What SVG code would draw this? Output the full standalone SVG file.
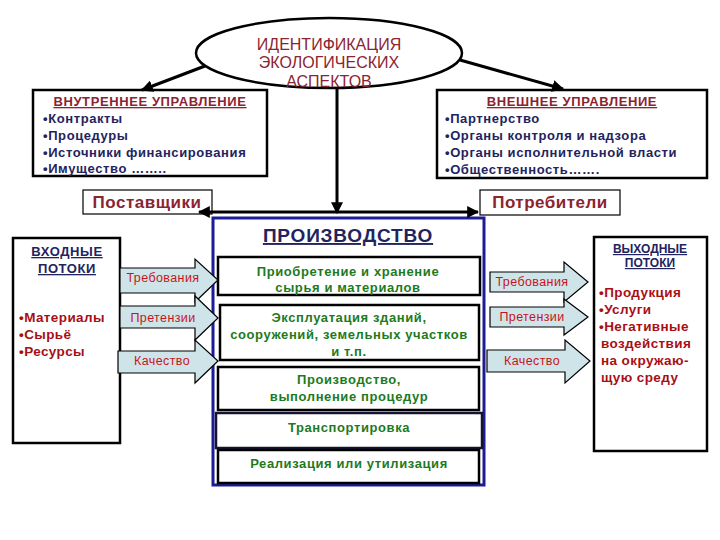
<svg xmlns="http://www.w3.org/2000/svg" width="720" height="540" viewBox="0 0 720 540">
<defs>
<marker id="ah" viewBox="0 0 10 10" refX="9" refY="5" markerWidth="4" markerHeight="4" orient="auto" markerUnits="strokeWidth">
<path d="M0,0 L10,5 L0,10 z" fill="#000"/>
</marker>
<style>
text{font-family:"Liberation Sans",Arial,sans-serif;}
.box{fill:#fff;stroke:#000;stroke-width:2.5;}
.arr{fill:#cfe4e9;stroke:#000;stroke-width:1.2;}
.mar{fill:#8b2431;}
.hdr{fill:#8b2431;font-weight:bold;font-size:13px;letter-spacing:0.6px;text-decoration:underline;}
.nav{fill:#23235e;font-weight:bold;font-size:13px;letter-spacing:0.6px;}
.grn{fill:#1d7a1d;font-weight:bold;font-size:13px;letter-spacing:0.6px;}
.red{fill:#a80f14;font-weight:bold;font-size:13.5px;letter-spacing:0.4px;}
.at{fill:#c8141a;font-size:12.5px;letter-spacing:0.4px;}
.big{fill:#8b2431;font-size:17px;font-weight:bold;letter-spacing:0.5px;}
.con{stroke:#000;stroke-width:3;fill:none;}
</style>
</defs>
<rect width="720" height="540" fill="#fff"/>

<g id="ellipse">
<ellipse cx="329" cy="53" rx="133" ry="35" fill="#fff" stroke="#000" stroke-width="2.5"/>
<text class="mar" font-size="16" text-anchor="middle" x="329" y="50">ИДЕНТИФИКАЦИЯ</text>
<text class="mar" font-size="16" text-anchor="middle" x="329" y="68">ЭКОЛОГИЧЕСКИХ</text>
<text class="mar" font-size="16" text-anchor="middle" x="329" y="87">АСПЕКТОВ</text>
</g>

<g id="internal">
<rect class="box" x="33" y="90" width="234" height="86"/>
<text class="hdr" x="150" y="106" text-anchor="middle">ВНУТРЕННЕЕ УПРАВЛЕНИЕ</text>
<text class="nav" x="43" y="123">•Контракты</text>
<text class="nav" x="43" y="140">•Процедуры</text>
<text class="nav" x="43" y="157">•Источники финансирования</text>
<text class="nav" x="43" y="173">•Имущество ……..</text>
</g>

<g id="external">
<rect class="box" x="437" y="90" width="270" height="88"/>
<text class="hdr" x="572" y="106" text-anchor="middle">ВНЕШНЕЕ УПРАВЛЕНИЕ</text>
<text class="nav" x="445" y="123">•Партнерство</text>
<text class="nav" x="445" y="140">•Органы контроля и надзора</text>
<text class="nav" x="445" y="157">•Органы исполнительной власти</text>
<text class="nav" x="445" y="174">•Общественность…….</text>
</g>

<g id="suppliers">
<rect x="83" y="190" width="129" height="24" fill="#fff" stroke="#000" stroke-width="1.2"/>
<text class="big" x="147" y="208" text-anchor="middle">Поставщики</text>
</g>

<g id="consumers">
<rect x="480" y="190" width="140" height="25" fill="#fff" stroke="#000" stroke-width="1.2"/>
<text class="big" x="550" y="208" text-anchor="middle">Потребители</text>
</g>

<g id="production">
<rect x="213" y="218" width="271" height="267" fill="#fff" stroke="#1c1c96" stroke-width="3"/>
<text x="348" y="242" text-anchor="middle" font-size="19" font-weight="bold" letter-spacing="0.8" fill="#23235e" text-decoration="underline">ПРОИЗВОДСТВО</text>
</g>

<g id="p1">
<rect class="box" x="218" y="257" width="262" height="38"/>
<text class="grn" x="348" y="276" text-anchor="middle">Приобретение и хранение</text>
<text class="grn" x="348" y="292" text-anchor="middle">сырья и материалов</text>
</g>

<g id="p2">
<rect class="box" x="220" y="305" width="259" height="55"/>
<text class="grn" x="349" y="322" text-anchor="middle">Эксплуатация зданий,</text>
<text class="grn" x="349" y="339" text-anchor="middle">сооружений, земельных участков</text>
<text class="grn" x="349" y="356" text-anchor="middle">и т.п.</text>
</g>

<g id="p3">
<rect class="box" x="218" y="367" width="261" height="43"/>
<text class="grn" x="349" y="384" text-anchor="middle">Производство,</text>
<text class="grn" x="349" y="401" text-anchor="middle">выполнение процедур</text>
</g>

<g id="p4">
<rect x="216" y="413" width="266" height="35" fill="#fff" stroke="#141432" stroke-width="2.5"/>
<text class="grn" x="349" y="432" text-anchor="middle">Транспортировка</text>
</g>

<g id="p5">
<rect class="box" x="218" y="450" width="261" height="33"/>
<text class="grn" x="349" y="468" text-anchor="middle">Реализация или утилизация</text>
</g>

<g id="inputs">
<rect class="box" x="13" y="238" width="107" height="205"/>
<text x="67" y="256" text-anchor="middle" font-size="13" font-weight="bold" letter-spacing="0.6" fill="#23235e" text-decoration="underline">ВХОДНЫЕ</text>
<text x="67" y="273" text-anchor="middle" font-size="13" font-weight="bold" letter-spacing="0.6" fill="#23235e" text-decoration="underline">ПОТОКИ</text>
<text class="red" x="19" y="322">•Материалы</text>
<text class="red" x="19" y="339">•Сырьё</text>
<text class="red" x="19" y="356">•Ресурсы</text>
</g>

<g id="outputs">
<rect class="box" x="594" y="237" width="113" height="214"/>
<text x="650" y="253" text-anchor="middle" font-size="12" font-weight="bold" fill="#23235e" text-decoration="underline">ВЫХОДНЫЕ</text>
<text x="650" y="267" text-anchor="middle" font-size="12" font-weight="bold" fill="#23235e" text-decoration="underline">ПОТОКИ</text>
<text class="red" x="599" y="297">•Продукция</text>
<text class="red" x="599" y="314">•Услуги</text>
<text class="red" x="599" y="331">•Негативные</text>
<text class="red" x="601" y="348">воздействия</text>
<text class="red" x="601" y="365">на окружаю-</text>
<text class="red" x="601" y="382">щую среду</text>
</g>

<g id="arrow-in-1">
<polygon class="arr" points="120,268 195,268 195,259 218,280 195,302 195,293 120,293"/>
<text class="at" x="163" y="282" text-anchor="middle">Требования</text>
</g>
<g id="arrow-in-2">
<polygon class="arr" points="120,306 195,306 195,296 218,318 195,340 195,328 120,328"/>
<text class="at" x="163" y="322" text-anchor="middle">Претензии</text>
</g>
<g id="arrow-in-3">
<polygon class="arr" points="118,351 195,351 195,340 218,361 195,383 195,373 118,373"/>
<text class="at" x="162" y="365" text-anchor="middle">Качество</text>
</g>

<g id="arrow-out-1">
<polygon class="arr" points="490,272 564,272 564,262 588,282 564,302 564,292 490,292"/>
<text class="at" x="532" y="286" text-anchor="middle">Требования</text>
</g>
<g id="arrow-out-2">
<polygon class="arr" points="490,307 564,307 564,299 588,317 564,335 564,327 490,327"/>
<text class="at" x="532" y="321" text-anchor="middle">Претензии</text>
</g>
<g id="arrow-out-3">
<polygon class="arr" points="487,350 565,350 565,340 590,361 565,383 565,372 487,372"/>
<text class="at" x="532" y="365" text-anchor="middle">Качество</text>
</g>

<g id="connectors">
<line class="con" x1="205" y1="66" x2="142" y2="90" marker-end="url(#ah)"/>
<line class="con" x1="460" y1="60" x2="563" y2="89" marker-end="url(#ah)"/>
<line class="con" x1="337" y1="88" x2="337" y2="213" marker-end="url(#ah)"/>
<line class="con" x1="337" y1="212" x2="199" y2="212" marker-end="url(#ah)"/>
<line class="con" x1="337" y1="212" x2="478" y2="212" marker-end="url(#ah)"/>
</g>
</svg>
